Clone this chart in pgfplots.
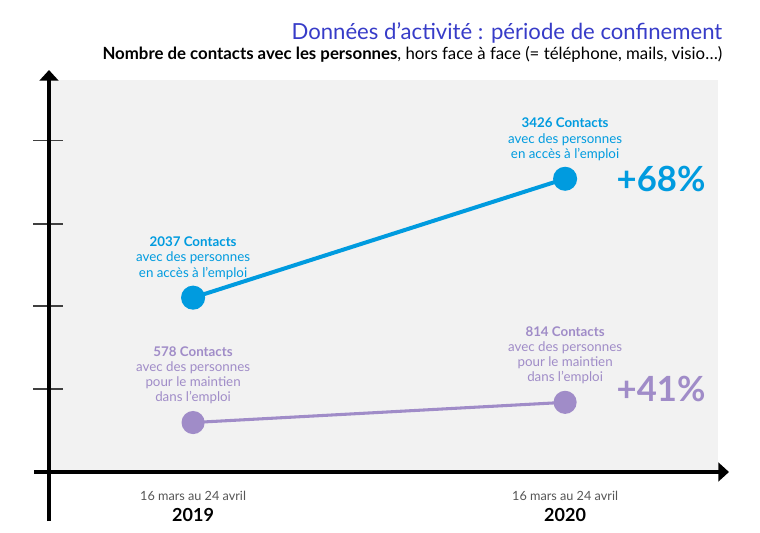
\documentclass[border=0pt]{standalone}
\usepackage{pgfplots}
\pgfplotsset{compat=1.18}
\usepackage{fontspec}
\setmainfont{Lato}
\usetikzlibrary{arrows.meta}

\definecolor{bleu}{RGB}{0,155,223}
\definecolor{violet}{RGB}{160,140,200}
\definecolor{titre}{RGB}{55,60,200}
\definecolor{fond}{RGB}{242,242,242}
\definecolor{gris}{RGB}{85,85,85}

\begin{document}
\begin{tikzpicture}
\path[use as bounding box] (0,0) rectangle (570pt,399pt);

\begin{axis}[
    at={(36pt,45pt)}, anchor=south west,
    scale only axis, width=502.5pt, height=294pt,
    xmin=-0.39, xmax=1.411, ymin=0, ymax=4580,
    axis background/.style={fill=fond},
    axis line style={draw=none},
    xtick pos=bottom, ytick pos=left,
    xtick={0,1},
    xticklabels={{\color{gris}16 mars au 24 avril}\\[3.5pt]{\fontsize{13.5}{15}\selectfont\bfseries 2019},
                 {\color{gris}16 mars au 24 avril}\\[3.5pt]{\fontsize{13.5}{15}\selectfont\bfseries 2020}},
    xticklabel style={align=center, font=\fontsize{9.5}{12}\selectfont, yshift=0pt},
    major x tick style={draw=none},
    ytick={970,1940,2900,3870}, yticklabels={},
    tick align=center, major tick length=21.75pt,
    major y tick style={line width=1.1pt, color=black!75},
    clip=false,
]
% acces a l'emploi
\addplot[bleu, line width=3pt, mark=*, mark size=7.5pt,
    mark options={fill=bleu, draw=none}]
    coordinates {(0,2037)(1,3426)};
% maintien dans l'emploi
\addplot[violet, line width=2.3pt, mark=*, mark size=7.5pt,
    mark options={fill=violet, draw=none}]
    coordinates {(0,578)(1,814)};

\tikzset{lab/.style={anchor=south, align=center, inner sep=0pt, yshift=13.5pt,
    font=\fontsize{10}{11.4}\selectfont}}
\node[lab, text=bleu] at (axis cs:0,2037)
    {\textbf{2037 Contacts}\\avec des personnes\\en accès à l’emploi};
\node[lab, text=bleu] at (axis cs:1,3426)
    {\textbf{3426 Contacts}\\avec des personnes\\en accès à l’emploi};
\node[lab, text=violet] at (axis cs:0,578)
    {\textbf{578 Contacts}\\avec des personnes\\pour le maintien\\dans l’emploi};
\node[lab, text=violet] at (axis cs:1,814)
    {\textbf{814 Contacts}\\avec des personnes\\pour le maintien\\dans l’emploi};
\end{axis}

\begin{scope}[yshift=399pt, x=0.75pt, y=-0.75pt]
\node[anchor=base east, text=titre, font=\fontsize{16.6}{19}\selectfont]
    at (727,40) {Données d’activité : période de confinement};
\node[anchor=base east, font=\fontsize{12.6}{15}\selectfont]
    at (727,60) {\textbf{Nombre de contacts avec les personnes}, hors face à face (= téléphone, mails, visio…)};

\draw[line width=3pt, -{Triangle[width=14pt,length=8pt]}] (34,472) -- (729,472);
\draw[line width=3pt, -{Triangle[width=14pt,length=8pt]}] (49,521) -- (49,70);

\node[anchor=west, text=bleu, font=\fontsize{26}{30}\selectfont\bfseries]
    at (612,179) {+68\%};
\node[anchor=west, text=violet, font=\fontsize{26}{30}\selectfont\bfseries]
    at (612,389) {+41\%};
\end{scope}
\end{tikzpicture}
\end{document}
